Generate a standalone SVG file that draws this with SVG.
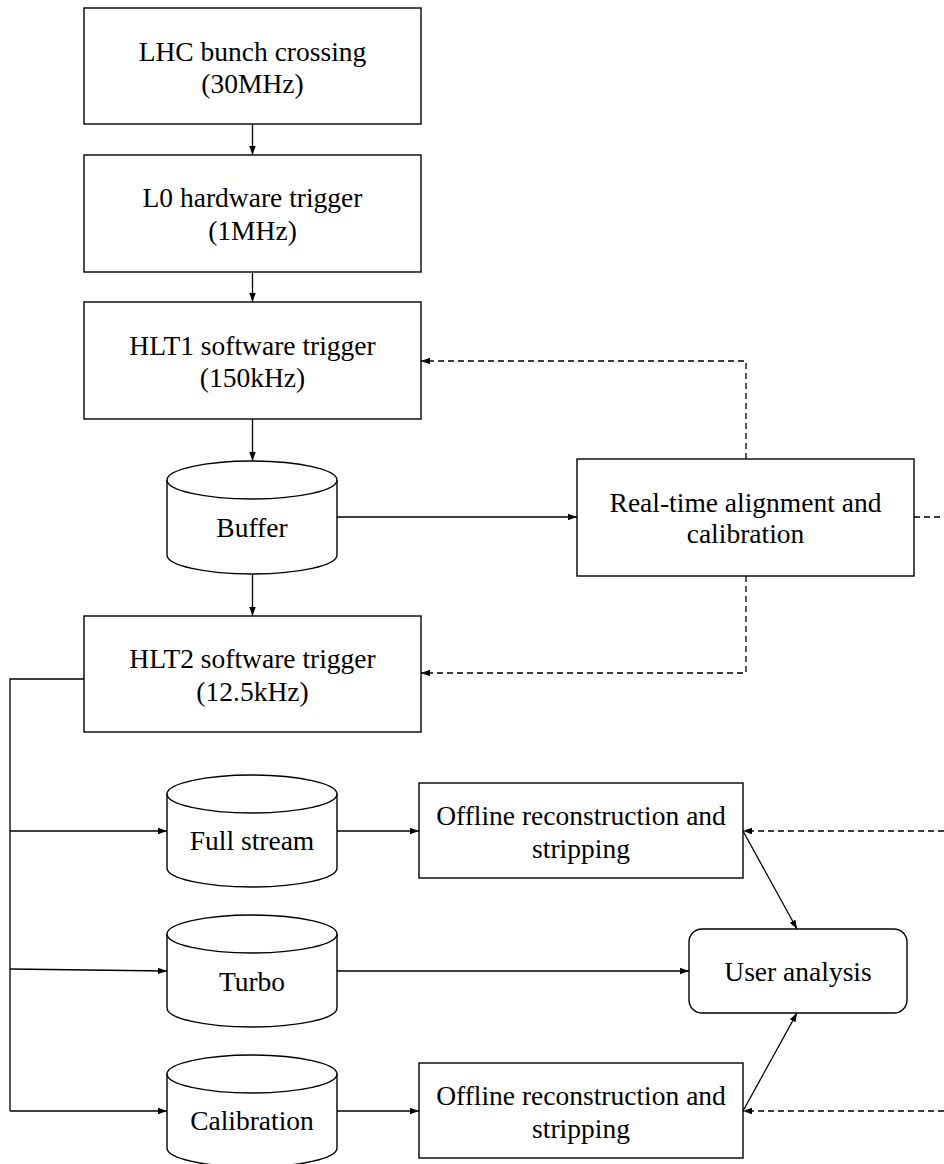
<svg xmlns="http://www.w3.org/2000/svg" width="944" height="1164" viewBox="0 0 944 1164">
  <defs>
    <marker id="arrow" markerUnits="userSpaceOnUse" markerWidth="10" markerHeight="8" refX="9" refY="4" orient="auto">
      <path d="M0,0.8 L9,4 L0,7.2 Z" fill="#000"/>
    </marker>
    <style>
      .box { fill: #fff; stroke: #000; stroke-width: 1.4; }
      .line { fill: none; stroke: #000; stroke-width: 1.3; }
      .dash { fill: none; stroke: #000; stroke-width: 1.3; stroke-dasharray: 6 4; }
      .lbl { font-family: "Liberation Serif", "Times New Roman", serif; font-size: 27.5px; fill: #000; text-anchor: middle; }
    </style>
  </defs>
  <rect width="944" height="1164" fill="#fff"/>

  <!-- connectors -->
  <g id="connectors">
    <line class="line" x1="252.5" y1="124" x2="252.5" y2="155" marker-end="url(#arrow)"/>
    <line class="line" x1="252.5" y1="272" x2="252.5" y2="302" marker-end="url(#arrow)"/>
    <line class="line" x1="252.5" y1="419" x2="252.5" y2="461" marker-end="url(#arrow)"/>
    <line class="line" x1="252.5" y1="574" x2="252.5" y2="616" marker-end="url(#arrow)"/>
    <line class="line" x1="337" y1="517" x2="577" y2="517" marker-end="url(#arrow)"/>
    <!-- feedback from alignment -->
    <polyline class="dash" points="746,459 746,361 421,361" marker-end="url(#arrow)"/>
    <polyline class="dash" points="746,576 746,673 421,673" marker-end="url(#arrow)"/>
    <line class="dash" x1="914" y1="517" x2="944" y2="517"/>
    <line class="dash" x1="944" y1="831" x2="743" y2="831" marker-end="url(#arrow)"/>
    <line class="dash" x1="944" y1="1111" x2="743" y2="1111" marker-end="url(#arrow)"/>
    <!-- HLT2 output streams -->
    <polyline class="line" points="84,679 10,679 10,1111"/>
    <line class="line" x1="10" y1="831" x2="167" y2="831" marker-end="url(#arrow)"/>
    <line class="line" x1="10" y1="969" x2="167" y2="971" marker-end="url(#arrow)"/>
    <line class="line" x1="10" y1="1111" x2="167" y2="1111" marker-end="url(#arrow)"/>
    <line class="line" x1="337" y1="831" x2="419" y2="831" marker-end="url(#arrow)"/>
    <line class="line" x1="337" y1="971" x2="689" y2="971" marker-end="url(#arrow)"/>
    <line class="line" x1="337" y1="1111" x2="419" y2="1111" marker-end="url(#arrow)"/>
    <line class="line" x1="743" y1="831" x2="797" y2="929" marker-end="url(#arrow)"/>
    <line class="line" x1="743" y1="1111" x2="797" y2="1013" marker-end="url(#arrow)"/>
  </g>

  <g id="lhc">
    <rect class="box" x="84" y="8" width="337" height="116"/>
    <text class="lbl" x="252.5" y="61">LHC bunch crossing</text>
    <text class="lbl" x="252.5" y="93">(30MHz)</text>
  </g>
  <g id="l0">
    <rect class="box" x="84" y="155" width="337" height="117"/>
    <text class="lbl" x="252.5" y="207">L0 hardware trigger</text>
    <text class="lbl" x="252.5" y="240">(1MHz)</text>
  </g>
  <g id="hlt1">
    <rect class="box" x="84" y="302" width="337" height="117"/>
    <text class="lbl" x="252.5" y="355">HLT1 software trigger</text>
    <text class="lbl" x="252.5" y="387">(150kHz)</text>
  </g>
  <g id="buffer">
    <path class="box" d="M167,480 L167,555 A85,19 0 0 0 337,555 L337,480"/>
    <ellipse class="box" cx="252" cy="480" rx="85" ry="19"/>
    <text class="lbl" x="252" y="537">Buffer</text>
  </g>
  <g id="hlt2">
    <rect class="box" x="84" y="616" width="337" height="116"/>
    <text class="lbl" x="252.5" y="668">HLT2 software trigger</text>
    <text class="lbl" x="252.5" y="701">(12.5kHz)</text>
  </g>
  <g id="alignment">
    <rect class="box" x="577" y="459" width="337" height="117"/>
    <text class="lbl" x="745.5" y="512">Real-time alignment and</text>
    <text class="lbl" x="745.5" y="543">calibration</text>
  </g>
  <g id="full-stream">
    <path class="box" d="M167,794 L167,868 A85,19 0 0 0 337,868 L337,794"/>
    <ellipse class="box" cx="252" cy="794" rx="85" ry="19"/>
    <text class="lbl" x="252" y="850">Full stream</text>
  </g>
  <g id="turbo">
    <path class="box" d="M167,934 L167,1008 A85,19 0 0 0 337,1008 L337,934"/>
    <ellipse class="box" cx="252" cy="934" rx="85" ry="19"/>
    <text class="lbl" x="252" y="991">Turbo</text>
  </g>
  <g id="calibration">
    <path class="box" d="M167,1074 L167,1148 A85,19 0 0 0 337,1148 L337,1074"/>
    <ellipse class="box" cx="252" cy="1074" rx="85" ry="19"/>
    <text class="lbl" x="252" y="1130">Calibration</text>
  </g>
  <g id="offline-full">
    <rect class="box" x="419" y="783" width="324" height="95"/>
    <text class="lbl" x="581" y="825">Offline reconstruction and</text>
    <text class="lbl" x="581" y="858">stripping</text>
  </g>
  <g id="offline-calib">
    <rect class="box" x="419" y="1063" width="324" height="95"/>
    <text class="lbl" x="581" y="1105">Offline reconstruction and</text>
    <text class="lbl" x="581" y="1138">stripping</text>
  </g>
  <g id="user-analysis">
    <rect class="box" x="689" y="929" width="218" height="84" rx="13" ry="13"/>
    <text class="lbl" x="798" y="981">User analysis</text>
  </g>
</svg>
